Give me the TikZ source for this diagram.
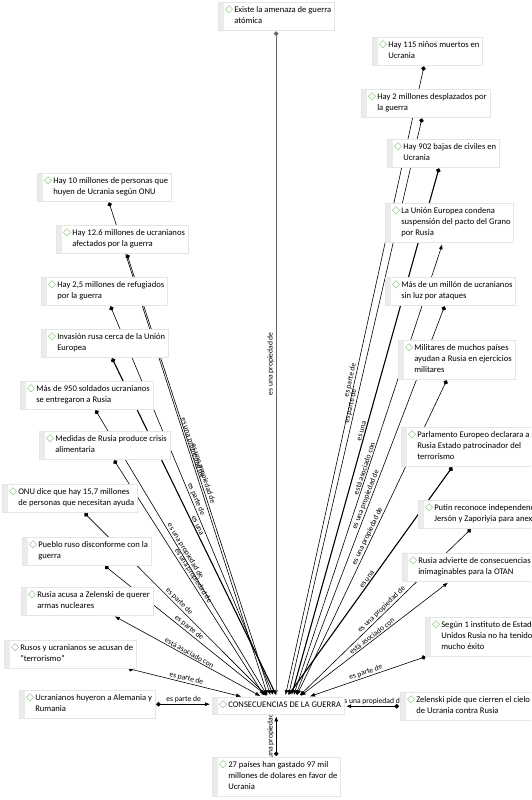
\documentclass[tikz,border=0pt]{standalone}
\usepackage{fontspec}
\setmainfont{Carlito}
\newfontfamily\symf{DejaVu Sans}
\usetikzlibrary{arrows.meta,positioning}
\pgfdeclarelayer{back}
\pgfsetlayers{back,main}
\definecolor{dia}{RGB}{125,192,115}
\newcommand{\cpt}[1]{\hspace*{4pt}{\symf\fontsize{10.5}{10.5}\selectfont\textcolor{dia}{◇}}\hspace{1pt}\begin{tabular}[t]{@{}l@{}}#1\end{tabular}}
\tikzset{>={Latex[width=4pt,length=5pt]}}
\tikzset{concept/.style={draw=black!10, fill=white, anchor=north west,
    inner xsep=3pt, inner ysep=3pt, font=\fontsize{8.6}{11}\selectfont,
    path picture={\fill[black!8] (path picture bounding box.south west)
      rectangle ([xshift=6pt]path picture bounding box.north west);}}}
\tikzset{link/.style={arrows={Circle[length=4.5pt]-Latex[width=4pt,length=5pt]},
    line width=0.6pt, shorten <=1pt, shorten >=2pt}}
\tikzset{both/.style={arrows={Latex[width=4pt,length=5pt]-Latex[width=4pt,length=5pt]},
    line width=0.6pt, shorten <=2pt, shorten >=2pt}}
\tikzset{lbl/.style={midway, sloped, above, inner sep=1pt,
    font=\fontsize{7.6}{8}\selectfont}}
\tikzset{vlbl/.style={midway, rotate=90, anchor=south, inner sep=2pt,
    font=\fontsize{7.6}{8}\selectfont}}

\begin{document}
\begin{tikzpicture}[x=1pt, y=-1pt]
    \useasboundingbox (0,0) rectangle (531,800);
    \clip (0,0) rectangle (531,800);

    % centre and bottom
    \node[concept] (cons) at (212,697) {\cpt{CONSECUENCIAS DE LA GUERRA}};
    \node[concept] (gasto) at (212,757) {\cpt{27 países han gastado 97 mil\\millones de dolares en favor de\\Ucrania}};
    \node[concept] (atom) at (218,2) {\cpt{Existe la amenaza de guerra\\atómica}};

    % left column
    \node[concept] (l1) at (37,173) {\cpt{Hay 10 millones de personas que\\huyen de Ucrania según ONU}};
    \node[concept] (l2) at (56,225) {\cpt{Hay 12.6 millones de ucranianos\\afectados por la guerra}};
    \node[concept] (l3) at (41,277) {\cpt{Hay 2,5 millones de refugiados\\por la guerra}};
    \node[concept] (l4) at (41,329) {\cpt{Invasión rusa cerca de la Unión\\Europea}};
    \node[concept] (l5) at (20,381) {\cpt{Más de 950 soldados ucranianos\\se entregaron a Rusia}};
    \node[concept] (l6) at (39,431) {\cpt{Medidas de Rusia produce crisis\\alimentaria}};
    \node[concept] (l7) at (2,484) {\cpt{ONU dice que hay 15,7 millones\\de personas que necesitan ayuda}};
    \node[concept] (l8) at (22,537) {\cpt{Pueblo ruso disconforme con la\\guerra}};
    \node[concept] (l9) at (21,587) {\cpt{Rusia acusa a Zelenski de querer\\armas nucleares}};
    \node[concept] (l10) at (4,640) {\cpt{Rusos y ucranianos se acusan de\\"terrorismo"}};
    \node[concept] (l11) at (19,690) {\cpt{Ucranianos huyeron a Alemania y\\Rumania}};

    % right column
    \node[concept] (r1) at (372,37) {\cpt{Hay 115 niños muertos en\\Ucrania}};
    \node[concept] (r2) at (361,89) {\cpt{Hay 2 millones desplazados por\\la guerra}};
    \node[concept] (r3) at (387,139) {\cpt{Hay 902 bajas de civiles en\\Ucrania}};
    \node[concept] (r4) at (385,203) {\cpt{La Unión Europea condena\\suspensión del pacto del Grano\\por Rusia}};
    \node[concept] (r5) at (385,277) {\cpt{Más de un millón de ucranianos\\sin luz por ataques}};
    \node[concept] (r6) at (398,340) {\cpt{Militares de muchos países\\ayudan a Rusia en ejercicios\\militares}};
    \node[concept] (r7) at (401,427) {\cpt{Parlamento Europeo declarara a\\Rusia Estado patrocinador del\\terrorismo}};
    \node[concept] (r8) at (418,500) {\cpt{Putin reconoce independencia de\\Jersón y Zaporiyia para anexión}};
    \node[concept] (r9) at (402,553) {\cpt{Rusia advierte de consecuencias\\inimaginables para la OTAN}};
    \node[concept] (r10) at (425,617) {\cpt{Según 1 instituto de Estados\\Unidos Rusia no ha tenido\\mucho éxito}};
    \node[concept] (r11) at (400,692) {\cpt{Zelenski pide que cierren el cielo\\de Ucrania contra Rusia}};

    \begin{pgfonlayer}{back}
    \fill[white] (0,0) rectangle (531,800);
    \draw[link, draw=black!60] (atom) -- (atom |- cons.north) node[vlbl] {es una propiedad de};
    \draw[link] (gasto) -- (gasto |- cons.south) node[vlbl] {es una propiedad de};

    \draw[link] (l1) -- ([xshift=-10pt]cons.north) node[lbl] {es una propiedad de};
    \draw[link] (l2) -- ([xshift=-7pt]cons.north) node[lbl] {es una propiedad de};
    \draw[link] (l3) -- ([xshift=-4pt]cons.north) node[lbl] {es parte de};
    \draw[link, line width=1.1pt] (l4) -- ([xshift=-1pt]cons.north) node[lbl] {es una};
    \draw[link] (l5) -- ([xshift=-10pt]cons.north) node[lbl] {es una propiedad de};
    \draw[link] (l6) -- ([xshift=-13pt]cons.north) node[lbl] {es una propiedad de};
    \draw[link] (l7) -- ([xshift=-10pt]cons.north) node[lbl] {es parte de};
    \draw[link] (l8) -- ([xshift=-10pt]cons.north) node[lbl] {es parte de};
    \draw[both] (l9) -- ([xshift=-16pt]cons.north) node[lbl] {está asociado con};
    \draw[link] (l10) -- ([xshift=-35pt]cons.north) node[lbl] {es parte de};
    \draw[link] (l11) -- (l11 -| cons.west) node[lbl] {es parte de};

    \draw[link] (r1) -- ([xshift=7pt]cons.north) node[lbl] {es parte de};
    \draw[link] (r2) -- ([xshift=10pt]cons.north) node[lbl] {es parte de};
    \draw[link, line width=1.1pt] (r3) -- ([xshift=13pt]cons.north) node[lbl] {es una};
    \draw[both] (r4) -- ([xshift=15pt]cons.north) node[lbl] {está asociado con};
    \draw[link] (r5) -- ([xshift=17pt]cons.north) node[lbl] {es una propiedad de};
    \draw[link] (r6) -- ([xshift=18pt]cons.north) node[lbl] {es una propiedad de};
    \draw[link, line width=1.1pt] (r7) -- ([xshift=9pt]cons.north) node[lbl] {es una};
    \draw[link] (r8) -- ([xshift=20pt]cons.north) node[lbl] {es una propiedad de};
    \draw[both] (r9) -- ([xshift=21pt]cons.north) node[lbl] {está asociado con};
    \draw[link] (r10) -- ([xshift=30pt]cons.north) node[lbl] {es parte de};
    \draw[link] (r11) -- (r11 -| cons.east) node[lbl] {es una propiedad de};
    \end{pgfonlayer}

\end{tikzpicture}
\end{document}
